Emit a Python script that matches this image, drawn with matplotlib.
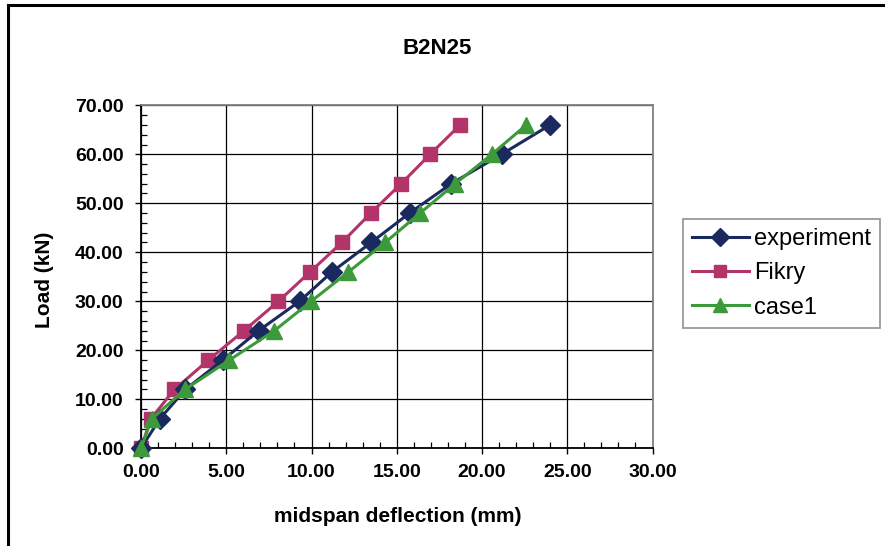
import matplotlib
matplotlib.use("Agg")
import matplotlib.pyplot as plt
from matplotlib.ticker import MultipleLocator, FormatStrFormatter
from matplotlib.patches import Rectangle

plt.rcParams['font.family'] = ['Liberation Sans', 'DejaVu Sans']

# Load–deflection data for beam B2N25
exp_defl = [0.0, 1.1, 2.6, 4.8, 6.9, 9.3, 11.2, 13.5, 15.75, 18.2, 21.15, 24.0]
exp_load = [0.0, 6.0, 12.0, 18.0, 24.0, 30.0, 36.0, 42.0, 48.0, 54.0, 60.0, 66.0]

fikry_defl = [0.0, 0.57, 1.96, 3.95, 6.04, 8.06, 9.92, 11.78, 13.48, 15.26, 16.96, 18.72]
fikry_load = [0.0, 6.0, 12.0, 18.0, 24.0, 30.0, 36.0, 42.0, 48.0, 54.0, 60.0, 66.0]

case1_defl = [0.0, 0.63, 2.58, 5.18, 7.82, 9.98, 12.17, 14.32, 16.37, 18.43, 20.58, 22.6]
case1_load = [0.0, 6.0, 12.0, 18.0, 24.0, 30.0, 36.0, 42.0, 48.0, 54.0, 60.0, 66.0]

series_names = ["experiment", "Fikry", "case1"]

W, H = 885, 546
fig = plt.figure(figsize=(W / 100, H / 100), dpi=100)
fig.patch.set_facecolor("white")

# outer chart border
fig.patches.append(Rectangle((8 / W, -0.1), 1.2, 1 - 5 / H + 0.1,
                             transform=fig.transFigure, fill=False,
                             edgecolor="black", linewidth=2.2))

left, right, top, bottom = 141, 652.5, 105.3, 448.3
ax = fig.add_axes([left / W, 1 - bottom / H, (right - left) / W, (bottom - top) / H])

navy = "#1b2a5e"
magenta = "#b3336b"
green = "#3d9a3a"

ax.plot(exp_defl, exp_load, color=navy, lw=2.2, marker="D", markersize=10,
        markerfacecolor=navy, markeredgecolor=navy, label=series_names[0],
        zorder=3, clip_on=False)
ax.plot(fikry_defl, fikry_load, color=magenta, lw=2.2, marker="s", markersize=10,
        markerfacecolor=magenta, markeredgecolor=magenta, label=series_names[1],
        zorder=2, clip_on=False)
ax.plot(case1_defl, case1_load, color=green, lw=2.2, marker="^", markersize=11,
        markerfacecolor=green, markeredgecolor=green, label=series_names[2],
        zorder=4, clip_on=False)

ax.set_xlim(0, 30)
ax.set_ylim(0, 70)
ax.xaxis.set_major_locator(MultipleLocator(5))
ax.xaxis.set_minor_locator(MultipleLocator(1))
ax.yaxis.set_major_locator(MultipleLocator(10))
ax.yaxis.set_minor_locator(MultipleLocator(2))
ax.xaxis.set_major_formatter(FormatStrFormatter("%.2f"))
ax.yaxis.set_major_formatter(FormatStrFormatter("%.2f"))

ax.grid(True, which="major", color="black", lw=0.9)
ax.set_axisbelow(True)
for s in ax.spines.values():
    s.set_color("#808080")
    s.set_linewidth(1.3)
ax.spines["left"].set_color("black")
ax.spines["bottom"].set_color("black")

ax.tick_params(which="major", direction="out", length=4.5, width=1, colors="black",
               labelsize=14)
ax.tick_params(axis="y", which="major", pad=8)
ax.tick_params(axis="x", which="major", pad=7)
ax.tick_params(which="minor", direction="in", length=4, width=0.9, colors="black")
ax.tick_params(which="both", top=False, right=False)
for lbl in ax.get_xticklabels() + ax.get_yticklabels():
    lbl.set_fontweight("bold")

fig.text(437 / W, 1 - 48 / H, "B2N25", ha="center", va="center",
         fontsize=16, fontweight="bold")
fig.text(398 / W, 1 - 516 / H, "midspan deflection (mm)", ha="center", va="center",
         fontsize=15, fontweight="bold")
fig.text(45 / W, 1 - 280 / H, "Load (kN)", ha="center", va="center",
         rotation=90, fontsize=15, fontweight="bold")

leg = fig.legend(loc="upper left", bbox_to_anchor=(683 / W, 1 - 219 / H),
                 fontsize=17, frameon=True, fancybox=False, handlelength=2.4,
                 handletextpad=0.22, borderpad=0.38, labelspacing=0.52,
                 borderaxespad=0, markerscale=0.9)
leg.get_frame().set_edgecolor("#808080")
leg.get_frame().set_linewidth(1.3)

fig.savefig("out.png", dpi=100)
